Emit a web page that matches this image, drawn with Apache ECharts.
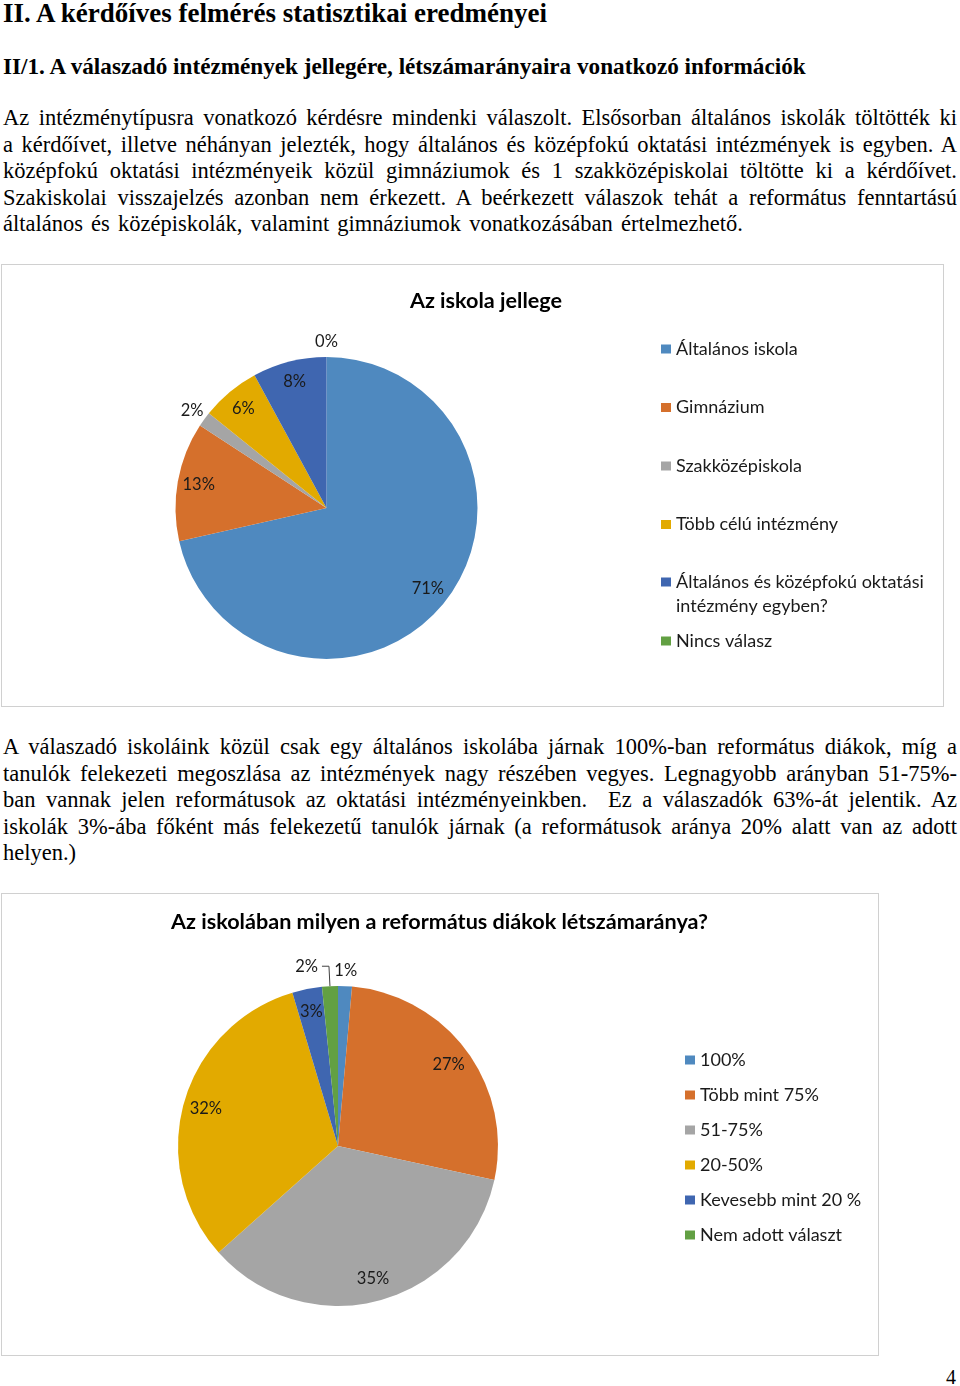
<!DOCTYPE html>
<html><head><meta charset="utf-8">
<script src="https://cdn.jsdelivr.net/npm/echarts@6/dist/echarts.min.js"></script>
<style>
html,body{margin:0;padding:0;background:#fff;}
body{width:960px;height:1386px;position:relative;overflow:hidden;font-family:"Liberation Serif","Times New Roman",serif;color:#000;}
.ln{position:absolute;left:3px;width:954px;height:26px;line-height:26px;font-size:22.5px;text-align:justify;text-align-last:justify;}
.ln.last{text-align:left;text-align-last:left;}
.h1{position:absolute;left:3px;top:0px;font-weight:bold;font-size:27px;line-height:26px;white-space:nowrap;}
.h2{position:absolute;left:3px;top:53px;font-weight:bold;font-size:23.2px;line-height:26px;white-space:nowrap;}
.box{position:absolute;box-sizing:border-box;border:1px solid #d0d0d0;}
.chart{position:absolute;left:0;}
.pn{position:absolute;left:946px;top:1365px;font-size:20px;line-height:24px;}
</style>
</head><body>
<div class="h1">II. A kérdőíves felmérés statisztikai eredményei</div>
<div class="h2">II/1. A válaszadó intézmények jellegére, létszámarányaira vonatkozó információk</div>

<div class="ln" style="top:105px">Az intézménytípusra vonatkozó kérdésre mindenki válaszolt. Elsősorban általános iskolák töltötték ki</div>
<div class="ln" style="top:132px">a kérdőívet, illetve néhányan jelezték, hogy általános és középfokú oktatási intézmények is egyben. A</div>
<div class="ln" style="top:158px">középfokú oktatási intézményeik közül gimnáziumok és 1 szakközépiskolai töltötte ki a kérdőívet.</div>
<div class="ln" style="top:185px">Szakiskolai visszajelzés azonban nem érkezett. A beérkezett válaszok tehát a református fenntartású</div>
<div class="ln last" style="top:211px;word-spacing:2.5px">általános és középiskolák, valamint gimnáziumok vonatkozásában értelmezhető.</div>

<div class="box" style="left:1px;top:264px;width:943px;height:443px;"></div>
<div id="c1" class="chart" style="top:264px;width:944px;height:443px;"></div>

<div class="ln" style="top:734px">A válaszadó iskoláink közül csak egy általános iskolába járnak 100%-ban református diákok, míg a</div>
<div class="ln" style="top:761px">tanulók felekezeti megoszlása az intézmények nagy részében vegyes. Legnagyobb arányban 51-75%-</div>
<div class="ln" style="top:787px">ban vannak jelen reformátusok az oktatási intézményeinkben.&nbsp; Ez a válaszadók 63%-át jelentik. Az</div>
<div class="ln" style="top:814px">iskolák 3%-ába főként más felekezetű tanulók járnak (a reformátusok aránya 20% alatt van az adott</div>
<div class="ln last" style="top:840px">helyen.)</div>

<div class="box" style="left:1px;top:893px;width:878px;height:463px;"></div>
<div id="c2" class="chart" style="top:893px;width:880px;height:463px;"></div>

<div class="pn">4</div>

<script>
// ---- data ----
const chart1Title = 'Az iskola jellege';
const schoolTypes = ['Általános iskola', 'Gimnázium', 'Szakközépiskola', 'Több célú intézmény', 'Általános és középfokú oktatási intézmény egyben?', 'Nincs válasz'];
const schoolShares = [71.4, 12.7, 1.6, 6.3, 7.9, 0];

const chart2Title = 'Az iskolában milyen a református diákok létszámaránya?';
const ratioBands = ['100%', 'Több mint 75%', '51-75%', '20-50%', 'Kevesebb mint 20 %', 'Nem adott választ'];
const ratioShares = [1.4, 27, 35, 32, 3, 1.6];

// ---- style ----
const PAL = ['#4F89BF', '#D5702C', '#A5A5A5', '#E2AA00', '#3F66B0', '#62A043'];
const FONT = 'Lato, "Open Sans", sans-serif';
const LBL = { color: '#1a1a1a', fontFamily: FONT, fontSize: 16.5 };

function items(names, values) { return names.map((n, i) => ({ name: n, value: values[i] })); }

function pieSet(center, r, names, values, outerSet, leaderSet, outerFactor) {
  const common = { type: 'pie', center: center, startAngle: 90, clockwise: true, percentPrecision: 0, avoidLabelOverlap: false, emphasis: { disabled: true } };
  const main = Object.assign({}, common, {
    radius: r,
    label: { show: false, position: 'outside', formatter: '{d}%', ...LBL, distanceToLabelLine: 4 },
    labelLine: { show: false, length: 20, length2: 7, lineStyle: { color: '#404040', width: 1 } },
    data: items(names, values).map(d => leaderSet.has(d.name) ? Object.assign(d, { label: { show: true }, labelLine: { show: true } }) : d)
  });
  const inner = Object.assign({}, common, {
    radius: r * 1.68, silent: true, z: 3,
    itemStyle: { color: 'rgba(0,0,0,0)' },
    label: { show: true, position: 'inside', formatter: '{d}%', ...LBL },
    labelLine: { show: false },
    data: items(names, values).map(d => Object.assign(d, { label: { show: !outerSet.has(d.name) && !leaderSet.has(d.name) } }))
  });
  const outer = Object.assign({}, common, {
    radius: r * outerFactor, silent: true, z: 3,
    itemStyle: { color: 'rgba(0,0,0,0)' },
    label: { show: true, position: 'inside', formatter: '{d}%', ...LBL },
    labelLine: { show: false },
    data: items(names, values).map(d => Object.assign(d, { label: { show: outerSet.has(d.name) } }))
  });
  return [main, inner, outer];
}

const legendBase = { orient: 'vertical', icon: 'rect', itemWidth: 10, itemHeight: 9, selectedMode: false, padding: 0 };
const legendText = { color: '#1a1a1a', fontFamily: FONT, fontSize: 18, lineHeight: 22 };
const titleText = { fontFamily: FONT, fontWeight: 'bold', fontSize: 21.6, color: '#000', lineHeight: 24 };

const c1 = echarts.init(document.getElementById('c1'), null, { renderer: 'canvas' });
c1.setOption({
  animation: false,
  color: PAL,
  title: { text: chart1Title, left: 486, top: 25, textAlign: 'center', padding: 0, textStyle: titleText },
  legend: [
    Object.assign({}, legendBase, { left: 661, top: 74, itemGap: 36.5, data: schoolTypes.slice(0, 4), textStyle: legendText }),
    Object.assign({}, legendBase, { left: 661, top: 282, data: [schoolTypes[4]],
      formatter: n => ' \n' + n.replace('oktatási ', 'oktatási\n'),
      textStyle: Object.assign({}, legendText, { lineHeight: 24 }) }),
    Object.assign({}, legendBase, { left: 661, top: 366, data: [schoolTypes[5]], textStyle: legendText })
  ],
  series: pieSet([326.5, 244], 151, schoolTypes, schoolShares, new Set(['Szakközépiskola', 'Nincs válasz']), new Set(), 2.16)
});

const c2 = echarts.init(document.getElementById('c2'), null, { renderer: 'canvas' });
c2.setOption({
  animation: false,
  color: PAL,
  title: { text: chart2Title, left: 439.5, top: 17, textAlign: 'center', padding: 0, textStyle: titleText },
  legend: Object.assign({}, legendBase, { left: 685, top: 156, itemGap: 13, data: ratioBands, textStyle: legendText }),
  series: pieSet([338, 253], 160, ratioBands, ratioShares, new Set(['100%']), new Set(['Nem adott választ']), 2.16)
});
</script>
</body></html>
